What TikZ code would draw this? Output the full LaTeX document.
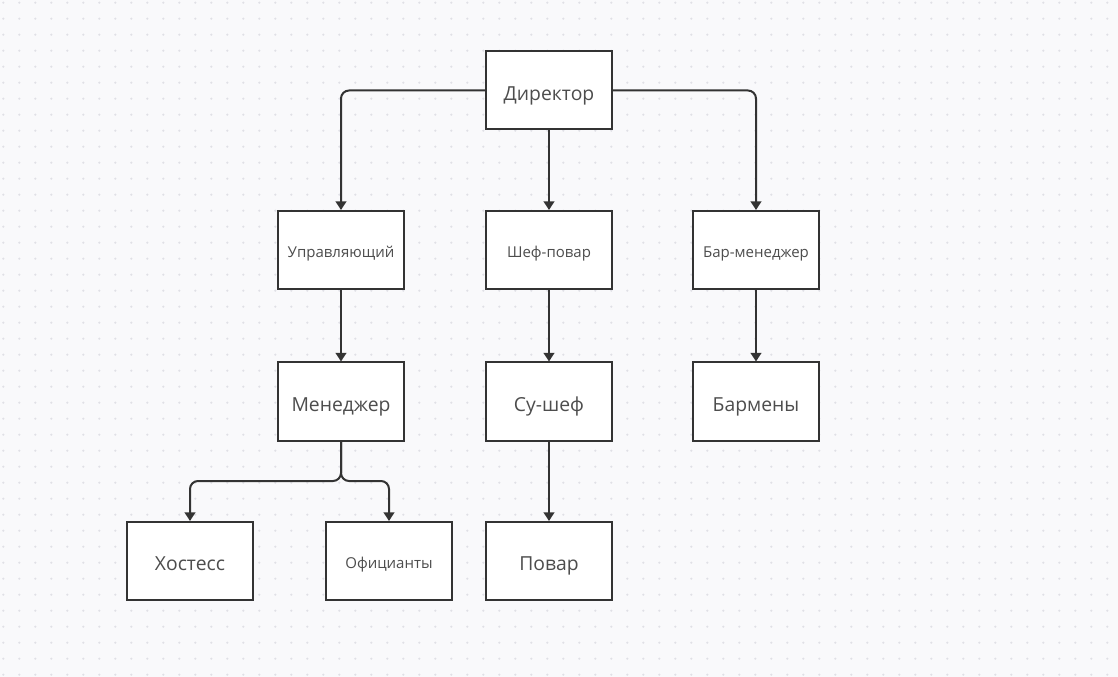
\documentclass[tikz,border=0pt]{standalone}
\usepackage{fontspec}
\setmainfont{Open Sans}
\usepackage{tikz}
\usetikzlibrary{positioning, arrows.meta}
\definecolor{bgcol}{RGB}{249,249,251}
\definecolor{dotcol}{RGB}{224,224,230}
\definecolor{edgecol}{RGB}{51,51,51}
\definecolor{txtcol}{RGB}{77,77,77}

\begin{document}
\begin{tikzpicture}[x=0.75pt, y=-0.75pt,
        post/.style={draw=edgecol, line width=1.5pt, fill=white, text=txtcol,
            minimum width=94.5pt, minimum height=58.5pt, inner sep=0pt, text depth=0pt},
        big/.style={post, font=\fontsize{14.5}{17}\selectfont, text height=14.5pt},
        small/.style={post, font=\fontsize{11.25}{13}\selectfont, text height=11.25pt},
        link/.style={draw=edgecol, line width=1.5pt, rounded corners=6pt,
            -{Triangle[width=8pt, length=6.5pt]}}]
        \fill[bgcol] (0,0) rectangle (1118,677);
        \useasboundingbox (0,0) rectangle (1118,677);
        \foreach \i in {0,...,69}
            \foreach \j in {0,...,42}
                \fill[dotcol] (3.3+16*\i, 2.7+16*\j) circle (0.9pt);
        % top
        \node[big] (dir) at (549,90.5) {Директор};
        % second row
        \node[small] (upr) at (341,250) {Управляющий};
        \node[small] (chef) at (549,250) {Шеф-повар};
        \node[small] (barman) at (756,250) {Бар-менеджер};
        % third row
        \node[big] (mgr) at (341,401.5) {Менеджер};
        \node[big] (sous) at (549,401.5) {Су-шеф};
        \node[big] (bars) at (756,401.5) {Бармены};
        % bottom
        \node[big] (host) at (190,561) {Хостесс};
        \node[small] (waiters) at (389,561) {Официанты};
        \node[big] (cook) at (549,561) {Повар};
        \coordinate (fork) at (341,481);
        \draw[link] (dir.west) -| (upr.north);
        \draw[link] (dir.east) -| (barman.north);
        \draw[link] (dir.south) -- (chef.north);
        \draw[link] (upr.south) -- (mgr.north);
        \draw[link] (chef.south) -- (sous.north);
        \draw[link] (barman.south) -- (bars.north);
        \draw[link] (sous.south) -- (cook.north);
        \draw[link] (mgr.south) -- (fork) -| (host.north);
        \draw[link] (mgr.south) -- (fork) -| (waiters.north);
    \end{tikzpicture}
\end{document}
